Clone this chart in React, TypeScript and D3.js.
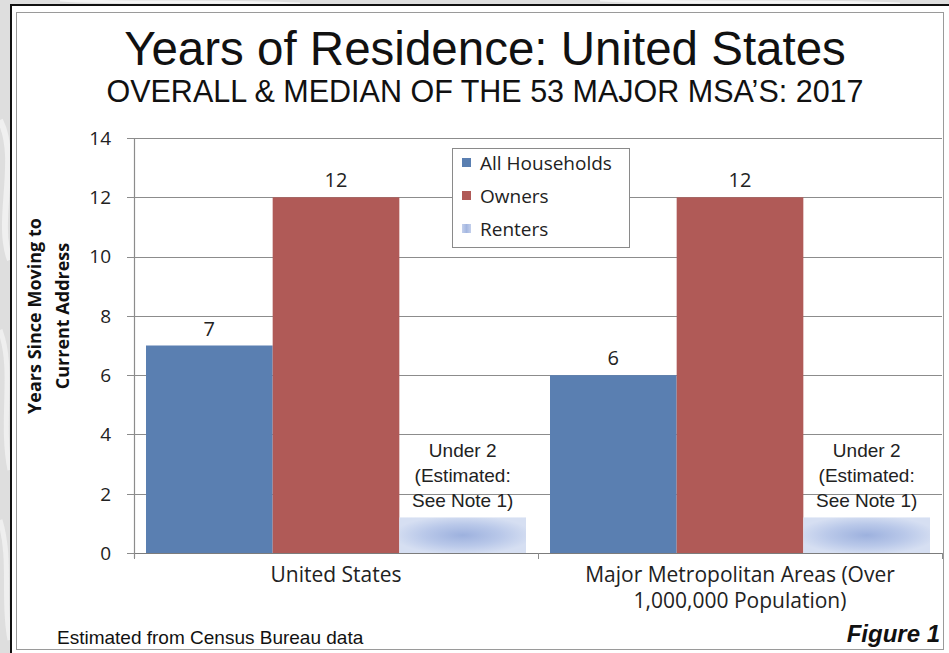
import React from "react";
import * as d3 from "d3";

const categories = ["United States", "Major Metropolitan Areas"];
const categoryLabelLines = [["United States"], ["Major Metropolitan Areas (Over", "1,000,000 Population)"]];
const seriesNames = ["All Households", "Owners", "Renters"];
const allHouseholds = [7, 6];
const owners = [12, 12];
const renters = [1.2, 1.2];
const rentersNote = ["Under 2", "(Estimated:", "See Note 1)"];
const yTicks = [0, 2, 4, 6, 8, 10, 12, 14];
const seriesValues = [allHouseholds, owners, renters];

const W = 949;
const H = 653;
const left = 134;
const right = 942;
const top = 138;
const bottom = 553;

const BLUE = "#5a7fb1";
const RED = "#b05a57";

export default function App() {
  const x0 = d3.scaleBand<string>().domain(categories).range([left, right]).paddingInner(0).paddingOuter(0);
  const x1 = d3.scaleBand<string>().domain(seriesNames).range([12, x0.bandwidth() - 12]).padding(0);
  const y = d3.scaleLinear().domain([0, 14]).range([bottom, top]);
  const calibri = "'Open Sans', sans-serif";
  const arial = "'Liberation Sans', Arial, sans-serif";

  return (
    <svg width={W} height={H} style={{ position: "absolute", left: 0, top: 0 }}>
      <defs>
        <radialGradient id="rentGrad" cx="0.5" cy="0.5" r="0.55">
          <stop offset="0%" stopColor="#9db1de" />
          <stop offset="55%" stopColor="#b9c8e9" />
          <stop offset="100%" stopColor="#d6dff2" />
        </radialGradient>
        <linearGradient id="rentSw" x1="0" x2="1">
          <stop offset="0%" stopColor="#c4d0ec" />
          <stop offset="50%" stopColor="#a3b6e0" />
          <stop offset="100%" stopColor="#c4d0ec" />
        </linearGradient>
      </defs>
      {/* background */}
      <rect x={0} y={0} width={W} height={H} fill="#dedede" />
      <path d="M0,120 C20,160 -5,220 10,260" stroke="#f4f4f4" strokeWidth={6} fill="none" opacity={0.8} />
      <path d="M0,330 C15,370 0,420 10,470" stroke="#f2f2f2" strokeWidth={5} fill="none" opacity={0.8} />
      <path d="M0,520 C12,560 2,600 10,640" stroke="#f2f2f2" strokeWidth={5} fill="none" opacity={0.8} />
      <path d="M60,0 C120,4 200,0 300,4" stroke="#f4f4f4" strokeWidth={3} fill="none" />
      <path d="M600,0 C700,4 800,0 900,4" stroke="#f4f4f4" strokeWidth={3} fill="none" />
      {/* frame */}
      <rect x={11} y={5} width={W} height={H} fill="#ffffff" stroke="#111" strokeWidth={2} />
      <rect x={16.5} y={12.5} width={927} height={637} fill="#ffffff" stroke="#9a9a9a" strokeWidth={1} />

      {/* titles */}
      <text x={485} y={65} textAnchor="middle" fontFamily={arial} fontSize={47.5} fill="#111">
        Years of Residence: United States
      </text>
      <text x={485} y={102} textAnchor="middle" fontFamily={arial} fontSize={30.5} fill="#111">
        OVERALL &amp; MEDIAN OF THE 53 MAJOR MSA’S: 2017
      </text>

      {/* gridlines and y axis */}
      {yTicks.map((t) => (
        <g key={t}>
          {t > 0 && (
            <line x1={left} x2={right} y1={Math.round(y(t)) + 0.5} y2={Math.round(y(t)) + 0.5} stroke="#8c8c8c" strokeWidth={1} />
          )}
          <line x1={127} x2={left} y1={Math.round(y(t)) + 0.5} y2={Math.round(y(t)) + 0.5} stroke="#8c8c8c" strokeWidth={1} />
          <text x={111} y={y(t)} dy="0.36em" textAnchor="end" fontFamily={calibri} fontSize={19} fill="#222">
            {t}
          </text>
        </g>
      ))}

      {/* bars */}
      {categories.map((c, ci) => (
        <g key={c} transform={`translate(${x0(c)},0)`}>
          {seriesNames.map((s, si) => {
            const v = seriesValues[si][ci];
            const bx = x1(s)!;
            const bw = x1.bandwidth();
            const fill = si === 0 ? BLUE : si === 1 ? RED : "url(#rentGrad)";
            return (
              <g key={s}>
                <rect x={bx} y={y(v)} width={bw} height={bottom - y(v)} fill={fill} />
                {si < 2 ? (
                  <text x={bx + bw / 2} y={y(v) - 10} textAnchor="middle" fontFamily={calibri} fontSize={20} fill="#222">
                    {v}
                  </text>
                ) : (
                  rentersNote.map((ln, li) => (
                    <text key={li} x={bx + bw / 2} y={y(v) - 10 - (rentersNote.length - 1 - li) * 25} textAnchor="middle" fontFamily={arial} fontSize={19} fill="#222">
                      {ln}
                    </text>
                  ))
                )}
              </g>
            );
          })}
        </g>
      ))}

      {/* axes lines */}
      <line x1={left + 0.5} x2={left + 0.5} y1={top} y2={bottom + 5} stroke="#8c8c8c" strokeWidth={1.2} />
      <line x1={left} x2={right} y1={bottom + 0.5} y2={bottom + 0.5} stroke="#7c7c7c" strokeWidth={1.2} />
      {[...categories.map((c) => x0(c)!), right].map((xv, i) => (
        <line key={i} x1={xv + 0.5} x2={xv + 0.5} y1={bottom} y2={bottom + 6} stroke="#8c8c8c" strokeWidth={1} />
      ))}

      {/* category labels */}
      {categories.map((c, ci) => (
        <g key={c}>
          {categoryLabelLines[ci].map((ln, li) => (
            <text key={li} x={x0(c)! + x0.bandwidth() / 2} y={582 + li * 26} textAnchor="middle" fontFamily={calibri} fontSize={21} fill="#222">
              {ln}
            </text>
          ))}
        </g>
      ))}

      {/* y axis title */}
      <g transform="translate(0,316) rotate(-90)">
        <text x={0} y={41} textAnchor="middle" fontFamily={calibri} fontWeight="bold" fontSize={18} fill="#111">
          Years Since Moving to
        </text>
        <text x={0} y={69} textAnchor="middle" fontFamily={calibri} fontWeight="bold" fontSize={18} fill="#111">
          Current Address
        </text>
      </g>

      {/* legend */}
      <rect x={452.5} y={148.5} width={177} height={99} fill="#ffffff" stroke="#8a8a8a" strokeWidth={1} />
      {seriesNames.map((s, i) => (
        <g key={s}>
          <rect x={462} y={158 + i * 33} width={9} height={9} fill={i === 0 ? BLUE : i === 1 ? RED : "url(#rentSw)"} />
          <text x={480} y={170 + i * 33} fontFamily={calibri} fontSize={19} fill="#222">
            {s}
          </text>
        </g>
      ))}

      {/* footer */}
      <text x={57} y={644} fontFamily={arial} fontSize={19} fill="#111">
        Estimated from Census Bureau data
      </text>
      <text x={940} y={642} textAnchor="end" fontFamily={arial} fontSize={24} fontWeight="bold" fontStyle="italic" fill="#111">
        Figure 1
      </text>
    </svg>
  );
}
